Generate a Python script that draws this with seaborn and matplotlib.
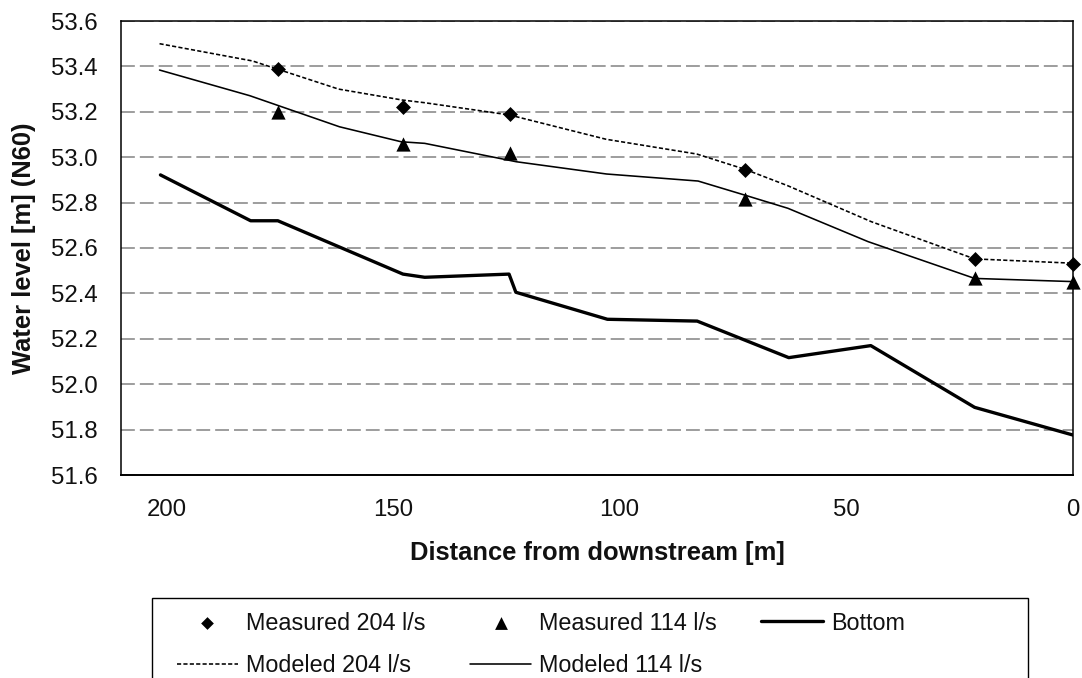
import numpy as np
import pandas as pd
import matplotlib
matplotlib.use("Agg")
import matplotlib.pyplot as plt
from matplotlib.patches import Rectangle
from matplotlib.ticker import FormatStrFormatter
import seaborn as sns

# ---- data ----
mod204_x = [201.5, 181.0, 162.0, 148.0, 143.0, 124.3, 103.0, 83.0, 72.4, 63.0, 44.5, 21.7, 0.0]
mod204_y = [53.50, 53.424, 53.30, 53.252, 53.24, 53.186, 53.079, 53.014, 52.947, 52.875, 52.716, 52.552, 52.533]

mod114_x = [201.5, 181.6, 161.8, 148.2, 143.0, 122.8, 102.9, 82.7, 72.4, 62.9, 45.2, 21.7, 0.0]
mod114_y = [53.384, 53.271, 53.134, 53.068, 53.061, 52.98, 52.926, 52.895, 52.833, 52.775, 52.628, 52.466, 52.452]

bottom_x = [201.3, 181.4, 175.4, 147.8, 143.0, 124.4, 122.9, 102.7, 82.9, 62.7, 44.6, 21.7, 0.0]
bottom_y = [52.922, 52.72, 52.72, 52.485, 52.471, 52.485, 52.405, 52.286, 52.278, 52.117, 52.170, 51.898, 51.776]

meas_x = [175.4, 147.9, 124.3, 72.4, 21.7, 0.0]
meas204_y = [53.39, 53.22, 53.19, 52.945, 52.55, 52.53]
meas114_y = [53.20, 53.06, 53.02, 52.815, 52.47, 52.45]

x_ticks = [200, 150, 100, 50, 0]
y_ticks = [51.6, 51.8, 52.0, 52.2, 52.4, 52.6, 52.8, 53.0, 53.2, 53.4, 53.6]

labels = ["Measured 204 l/s", "Measured 114 l/s", "Bottom", "Modeled 204 l/s", "Modeled 114 l/s"]

# ---- style ----
sns.set_style("white")
plt.rcParams["font.family"] = ["Liberation Sans", "DejaVu Sans"]
FS_TICK = 17.3
FS_LAB = 18.4
FS_LEG = 16.8
TXT = "#111111"

W, H = 1082, 678
fig = plt.figure(figsize=(W / 100, H / 100), dpi=100)
ax = fig.add_axes([121 / W, 1 - 475 / H, (1073 - 121) / W, (475 - 21) / H])

df_m204 = pd.DataFrame({"x": mod204_x, "y": mod204_y})
df_m114 = pd.DataFrame({"x": mod114_x, "y": mod114_y})
df_bot = pd.DataFrame({"x": bottom_x, "y": bottom_y})
df_s204 = pd.DataFrame({"x": meas_x, "y": meas204_y})
df_s114 = pd.DataFrame({"x": meas_x, "y": meas114_y})

sns.lineplot(data=df_bot, x="x", y="y", ax=ax, color="black", linewidth=2.4,
             sort=False, estimator=None, label=labels[2], zorder=3)
sns.lineplot(data=df_m114, x="x", y="y", ax=ax, color="black", linewidth=1.15,
             sort=False, estimator=None, label=labels[4], zorder=3)
sns.lineplot(data=df_m204, x="x", y="y", ax=ax, color="black", linewidth=1.15,
             sort=False, estimator=None, label=labels[3], zorder=3)
ax.lines[-1].set_linestyle((0, (2.6, 1.4)))
sns.scatterplot(data=df_s204, x="x", y="y", ax=ax, marker="D", s=58, color="black",
                edgecolor="black", linewidth=0, label=labels[0], zorder=4, clip_on=False)
sns.scatterplot(data=df_s114, x="x", y="y", ax=ax, marker="^", s=105, color="black",
                edgecolor="black", linewidth=0, label=labels[1], zorder=4, clip_on=False)

ax.set_xlim(210, 0)
ax.set_ylim(51.6, 53.6)
ax.set_xticks(x_ticks)
ax.set_yticks(y_ticks)
ax.yaxis.set_major_formatter(FormatStrFormatter("%.1f"))
ax.tick_params(axis="both", direction="out", length=7, width=1.0, color="black",
               labelsize=FS_TICK, labelcolor=TXT)
ax.tick_params(axis="y", pad=10.0)
ax.tick_params(axis="x", pad=10.5)

for s in ax.spines.values():
    s.set_visible(True)
    s.set_color("black")
    s.set_linewidth(1.1)
ax.spines["bottom"].set_linewidth(1.4)

ax.yaxis.grid(True, color="#8c8c8c", linewidth=1.2, linestyle=(0, (8.3, 3)))
ax.xaxis.grid(False)
ax.set_axisbelow(True)

ax.set_xlabel("Distance from downstream [m]", fontsize=FS_LAB, fontweight="bold", color=TXT)
ax.set_ylabel("Water level [m] (N60)", fontsize=FS_LAB, fontweight="bold", color=TXT)
ax.xaxis.set_label_coords(0.5, (475 - 541) / 454)
ax.yaxis.set_label_coords((36 - 121) / 952, 0.5)

# legend
h, l = ax.get_legend_handles_labels()
hd = dict(zip(l, h))
order = [labels[0], labels[3], labels[1], labels[4], labels[2]]
leg = ax.legend([hd[k] for k in order], order, loc="upper left",
                bbox_to_anchor=(176.7 / W, 1 - 611.5 / H), bbox_transform=fig.transFigure,
                ncol=3, frameon=False, borderpad=0, borderaxespad=0, fontsize=FS_LEG,
                handlelength=2.63, handletextpad=0.35, columnspacing=1.89,
                labelspacing=0.85, scatterpoints=1)
for t in leg.get_texts():
    t.set_color(TXT)
for hh, name in zip(leg.legend_handles, order):
    if name == labels[0]:
        hh.set_sizes([42])
    elif name == labels[1]:
        hh.set_sizes([85])

fig.add_artist(Rectangle((152 / W, -0.1), (1028 - 152) / W, (1 - 598 / H) + 0.1,
                         transform=fig.transFigure, fill=False, edgecolor="black",
                         linewidth=1.0))

fig.savefig("out.png", dpi=100)
